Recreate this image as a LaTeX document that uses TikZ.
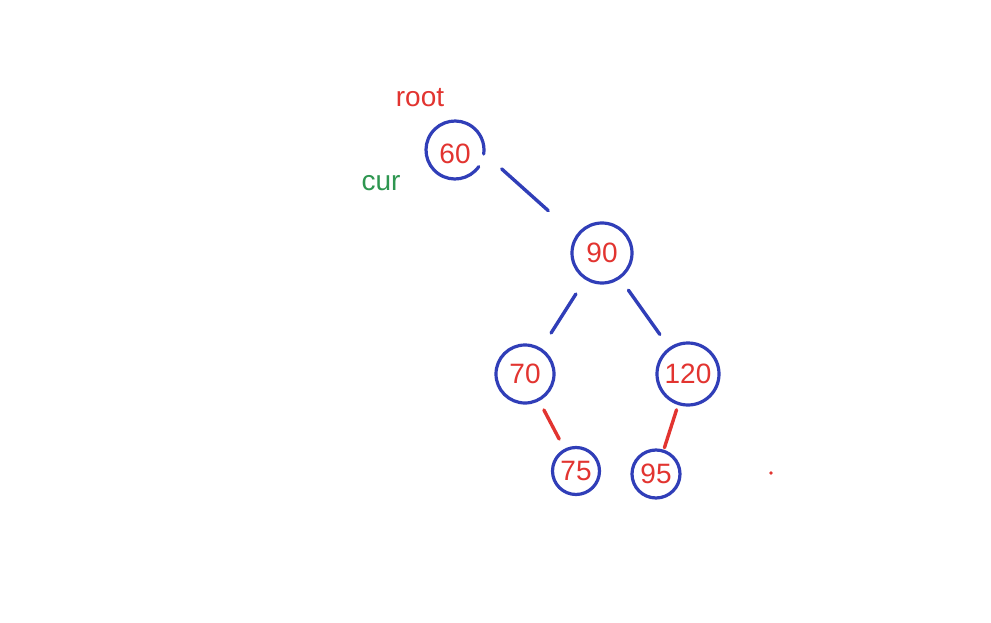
\documentclass[tikz,border=0pt]{standalone}
\usepackage{fontspec}
\setmainfont{Liberation Sans}
\definecolor{treeblue}{RGB}{48,62,184}
\definecolor{treered}{RGB}{226,52,48}
\definecolor{treegreen}{RGB}{46,150,80}
\begin{document}
\begin{tikzpicture}[x=1pt,y=-1pt,
  treenode/.style={circle,draw=treeblue,line width=3.2pt,inner sep=0pt,text=treered,font=\fontsize{28}{32}\selectfont},
  bluelink/.style={draw=treeblue,line width=3.4pt,line cap=round},
  redlink/.style={draw=treered,line width=3.4pt,line cap=round},
  lbl/.style={inner sep=0pt,font=\fontsize{28}{32}\selectfont}]
\useasboundingbox[fill=white] (0,0) rectangle (991,623);
% nodes
\node[treenode,draw=none,minimum size=58pt] (n60) at (455,150) {};
\draw[treeblue,line width=3.2pt,line cap=round] (455,150) ++(35:29) arc[start angle=35,end angle=368,radius=29];
\node[text=treered,font=\fontsize{28}{32}\selectfont,inner sep=0pt] (t60) at (455,154) {60};
\node[treenode,minimum size=60pt] (n90) at (602,253) {90};
\node[treenode,minimum size=58pt] (n70) at (525,374) {70};
\node[treenode,minimum size=62pt] (n120) at (688,374) {120};
\node[treenode,minimum size=47pt] (n75) at (576,471) {75};
\node[treenode,minimum size=48pt] (n95) at (656,474) {95};
% labels
\node[lbl,text=treered] (root) at (420,98) {root};
\node[lbl,text=treegreen] (cur) at (381,183) {cur};
% links
\draw[bluelink,shorten <=22pt,shorten >=37pt] (n60.-8) -- (n90.146);
\draw[bluelink,shorten <=17pt,shorten >=18pt] (n90) -- (n70);
\draw[bluelink,shorten <=14pt,shorten >=16pt] (n90) -- (n120);
\draw[redlink,shorten <=10pt,shorten >=11pt] (n70) -- (n75);
\draw[redlink,shorten <=5pt,shorten >=2pt] (n120) -- (n95);
% stray dot
\fill[treered] (771,473) circle[radius=1.8];
\end{tikzpicture}
\end{document}
